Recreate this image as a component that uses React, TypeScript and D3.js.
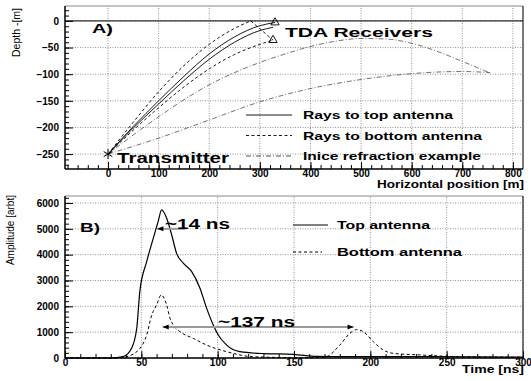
import { useEffect, useRef } from 'react'
import * as d3 from 'd3'

type Pt = [number, number]

// Panel A: ray paths, [horizontal m, depth m]
const raysTopDirect: Pt[] = [[0, -250], [50, -198], [100, -150], [150, -104], [200, -62], [250, -30], [300, -9], [330, -3]]
const raysTopSecond: Pt[] = [[0, -250], [50, -201], [100, -156], [150, -112], [200, -72], [250, -40], [300, -18], [326, -12]]
const raysBottomReflected: Pt[] = [[0, -250], [50, -190], [100, -133], [150, -84], [200, -44], [250, -14], [282, 0]]
const raysBottomReflectedDown: Pt[] = [[282, 0], [326, -36]]
const raysBottomDirect: Pt[] = [[0, -250], [50, -205], [100, -163], [150, -124], [200, -90], [250, -63], [300, -44], [326, -36]]
const iniceUpper: Pt[] = [[0, -250], [50, -214], [100, -180], [150, -148], [200, -120], [250, -97], [300, -78], [350, -62], [400, -48], [450, -38], [500, -33], [550, -34], [600, -42], [650, -57], [700, -76], [755, -98]]
const iniceLower: Pt[] = [[0, -250], [100, -220], [200, -186], [300, -152], [400, -127], [500, -110], [600, -99], [650, -96], [700, -95], [755, -97]]
const transmitter: Pt = [0, -250]
const receivers: Pt[] = [[330, -3], [326, -36]]

// Panel B: pulses, [time ns, amplitude]
const topAntenna: Pt[] = [[0, 0], [30, 0], [38, 50], [43.6, 375], [47, 1150], [49, 2570], [53.5, 3730], [57.8, 4630], [61, 5280], [63.3, 5730], [66.6, 5410], [69.9, 4760], [73.1, 4050], [77.5, 3670], [83, 3340], [88.4, 2700], [92.8, 1920], [97.1, 1280], [100.4, 890], [105.9, 500], [114.6, 245], [130, 170], [149.5, 143], [164.8, 60], [182, 50], [237, 50], [300, 30]]
const bottomAntenna: Pt[] = [[0, 0], [35, 0], [40.4, 50], [49.1, 375], [53.5, 890], [56.8, 1660], [60, 2050], [63, 2440], [66.6, 2050], [68.8, 1540], [70.9, 1280], [75.3, 1020], [84, 760], [92.8, 500], [105.9, 245], [123, 50], [160, 10], [171, 50], [180, 500], [186.6, 955], [191, 1100], [195.4, 1020], [202, 630], [208.4, 310], [215, 180], [232, 120], [259, 50], [300, 30]]

const xTicksA = d3.range(0, 801, 100)
const yTicksA = d3.range(-250, 1, 50)
const xTicksB = d3.range(0, 301, 50)
const yTicksB = d3.range(0, 6001, 1000)

const legendA = ['Rays to top antenna', 'Rays to bottom antenna', 'Inice refraction example']
const legendB = ['Top antenna', 'Bottom antenna']

const FONT = '"Liberation Sans", Arial, Helvetica, sans-serif'
const NARROW = '"Liberation Sans Narrow", "Arial Narrow", "Liberation Sans", sans-serif'
const DASH = '3,2.5'
const DASHDOT = '5,2,1,2'

export default function App() {
  const svgRef = useRef<SVGSVGElement>(null)

  useEffect(() => {
    if (!svgRef.current) return
    const svg = d3.select(svgRef.current)
    svg.selectAll('*').remove()

    const xA = d3.scaleLinear().domain([-85, 820]).range([65, 523])
    const yA = d3.scaleLinear().domain([-278, 28]).range([169, 6])
    const xB = d3.scaleLinear().domain([0, 300]).range([65, 523])
    const yB = d3.scaleLinear().domain([0, 6270]).range([358, 196])

    const drawFrame = (x: d3.ScaleLinear<number, number>, y: d3.ScaleLinear<number, number>,
      xt: number[], yt: number[], xMinor: number[], yMinor: number[]) => {
      const [x0, x1] = x.range()
      const [y0, y1] = y.range()
      const g = svg.append('g')
      // grid
      g.selectAll('.gx').data(xt).enter().append('line')
        .attr('x1', d => x(d)).attr('x2', d => x(d)).attr('y1', y0).attr('y2', y1)
        .attr('stroke', '#777').attr('stroke-width', 0.8).attr('stroke-dasharray', '1,1.5')
      g.selectAll('.gy').data(yt).enter().append('line')
        .attr('x1', x0).attr('x2', x1).attr('y1', d => y(d)).attr('y2', d => y(d))
        .attr('stroke', '#777').attr('stroke-width', 0.8).attr('stroke-dasharray', '1,1.5')

      const xAxis = g.append('g').attr('transform', `translate(0,${y0})`)
        .call(d3.axisBottom(x).tickValues(xt).tickSizeInner(-7).tickSizeOuter(0).tickPadding(1).tickFormat(d3.format('d')))
      g.append('g').attr('transform', `translate(0,${y0})`)
        .call(d3.axisBottom(x).tickValues(xMinor).tickSizeInner(-4).tickSizeOuter(0).tickFormat(() => ''))
      const yAxis = g.append('g').attr('transform', `translate(${x0},0)`)
        .call(d3.axisLeft(y).tickValues(yt).tickSizeInner(-8).tickSizeOuter(0).tickPadding(6).tickFormat(d3.format('d')))
      g.append('g').attr('transform', `translate(${x0},0)`)
        .call(d3.axisLeft(y).tickValues(yMinor).tickSizeInner(-4).tickSizeOuter(0).tickFormat(() => ''))
      g.selectAll('.domain').remove()
      g.selectAll('.tick line').attr('stroke', '#000')
      ;[xAxis, yAxis].forEach(a => a.selectAll('text')
        .attr('font-family', FONT).attr('font-weight', 'bold').attr('font-size', 10).attr('fill', '#000'))

      // frame
      g.append('line').attr('x1', x0).attr('x2', x1).attr('y1', y1).attr('y2', y1).attr('stroke', '#888').attr('stroke-width', 1)
      g.append('line').attr('x1', x1).attr('x2', x1).attr('y1', y0).attr('y2', y1).attr('stroke', '#222').attr('stroke-width', 1.2)
      g.append('line').attr('x1', x0).attr('x2', x0).attr('y1', y0).attr('y2', y1).attr('stroke', '#000').attr('stroke-width', 1.5)
      g.append('line').attr('x1', x0).attr('x2', x1).attr('y1', y0).attr('y2', y0).attr('stroke', '#000').attr('stroke-width', 1.5)
    }

    drawFrame(xA, yA, xTicksA, yTicksA, d3.range(-80, 820, 20), d3.range(-270, 28, 10))
    drawFrame(xB, yB, xTicksB, yTicksB, d3.range(0, 301, 10), d3.range(0, 6270, 200))

    const text = (s: string, x: number, y: number, size: number, len?: number, anchor = 'start') => {
      const t = svg.append('text').attr('x', x).attr('y', y).attr('font-family', FONT)
        .attr('font-weight', 'bold').attr('font-size', size).attr('text-anchor', anchor).text(s)
      if (len) t.attr('textLength', len).attr('lengthAdjust', 'spacingAndGlyphs')
      return t
    }

    // Panel A
    svg.append('line').attr('x1', xA.range()[0]).attr('x2', xA.range()[1]).attr('y1', yA(0)).attr('y2', yA(0))
      .attr('stroke', '#000').attr('stroke-width', 1)

    const lineA = d3.line<Pt>().x(d => xA(d[0])).y(d => yA(d[1])).curve(d3.curveMonotoneX)
    const pathsA: [Pt[], string | null][] = [
      [raysTopDirect, null], [raysTopSecond, null],
      [raysBottomReflected, DASH], [raysBottomReflectedDown, DASH], [raysBottomDirect, DASH],
      [iniceUpper, DASHDOT], [iniceLower, DASHDOT],
    ]
    pathsA.forEach(([pts, dash]) => {
      const p = svg.append('path').attr('d', lineA(pts)).attr('fill', 'none')
        .attr('stroke', dash === DASHDOT ? '#333' : '#000').attr('stroke-width', dash === DASHDOT ? 0.7 : 0.9)
      if (dash) p.attr('stroke-dasharray', dash)
    })

    svg.append('path').attr('d', d3.symbol(d3.symbolAsterisk, 70)()!)
      .attr('transform', `translate(${xA(transmitter[0])},${yA(transmitter[1])})`)
      .attr('stroke', '#000').attr('stroke-width', 1).attr('fill', 'none')
    receivers.forEach(r => {
      svg.append('path').attr('d', d3.symbol(d3.symbolTriangle, 30)()!)
        .attr('transform', `translate(${xA(r[0])},${yA(r[1])})`)
        .attr('stroke', '#000').attr('stroke-width', 0.9).attr('fill', 'none')
    })

    text('A)', 92, 33, 13, 21)
    text('TDA Receivers', 285, 37, 13, 148)
    text('Transmitter', 117, 163, 15, 112)

    const legA = svg.append('g')
    legendA.forEach((s, i) => {
      const ly = 115 + i * 20.5
      const l = legA.append('line').attr('x1', 246).attr('x2', 292).attr('y1', ly).attr('y2', ly)
        .attr('stroke', '#000').attr('stroke-width', i === 2 ? 0.7 : 0.9)
      if (i === 1) l.attr('stroke-dasharray', DASH)
      if (i === 2) l.attr('stroke-dasharray', DASHDOT)
    })
    text(legendA[0], 303, 119, 11, 150)
    text(legendA[1], 303, 139.5, 11, 179)
    text(legendA[2], 303, 160, 11, 178)

    text('Horizontal position [m]', 524, 188, 11, 147, 'end')
    svg.append('text').attr('transform', 'translate(20,8) rotate(-90)').attr('text-anchor', 'end')
      .attr('font-family', NARROW).attr('font-size', 10.5).text('Depth -[m]')

    // Panel B
    const lineB = d3.line<Pt>().x(d => xB(d[0])).y(d => yB(d[1])).curve(d3.curveMonotoneX)
    svg.append('path').attr('d', lineB(topAntenna)).attr('fill', 'none').attr('stroke', '#000').attr('stroke-width', 1.2)
    svg.append('path').attr('d', lineB(bottomAntenna)).attr('fill', 'none').attr('stroke', '#000')
      .attr('stroke-width', 1).attr('stroke-dasharray', DASH)

    const arrow = (t0: number, t1: number, amp: number, both: boolean) => {
      const y = yB(amp)
      svg.append('line').attr('x1', xB(t0)).attr('x2', xB(t1)).attr('y1', y).attr('y2', y)
        .attr('stroke', '#999').attr('stroke-width', 2)
      const head = (x: number, dir: number) => svg.append('path')
        .attr('d', `M${x},${y} L${x - dir * 6},${y - 2.5} L${x - dir * 6},${y + 2.5} Z`).attr('fill', '#000')
      head(xB(t0), -1)
      if (both) head(xB(t1), 1)
    }
    arrow(60.5, 78.5, 5000, false)
    arrow(64, 189, 1200, true)

    text('B)', 80, 232, 13, 20)
    text('~14 ns', 165, 229, 14, 65)
    text('~137 ns', 218, 327, 14, 77)

    legendB.forEach((s, i) => {
      const ly = 225 + i * 27
      const l = svg.append('line').attr('x1', 293).attr('x2', i === 0 ? 328 : 322).attr('y1', ly).attr('y2', ly)
        .attr('stroke', '#000').attr('stroke-width', 1)
      if (i === 1) l.attr('stroke-dasharray', DASH)
    })
    text(legendB[0], 337, 229, 11.5, 93)
    text(legendB[1], 337, 256, 11.5, 125)

    text('Time [ns]', 524, 373, 11, 62, 'end')
    svg.append('text').attr('transform', 'translate(14,195) rotate(-90)').attr('text-anchor', 'end')
      .attr('font-family', NARROW).attr('font-size', 10).text('Amplitude [arbt]')
  }, [])

  return (
    <svg ref={svgRef} width={531} height={381}
      style={{ position: 'absolute', left: 0, top: 0, background: '#fff' }} />
  )
}
